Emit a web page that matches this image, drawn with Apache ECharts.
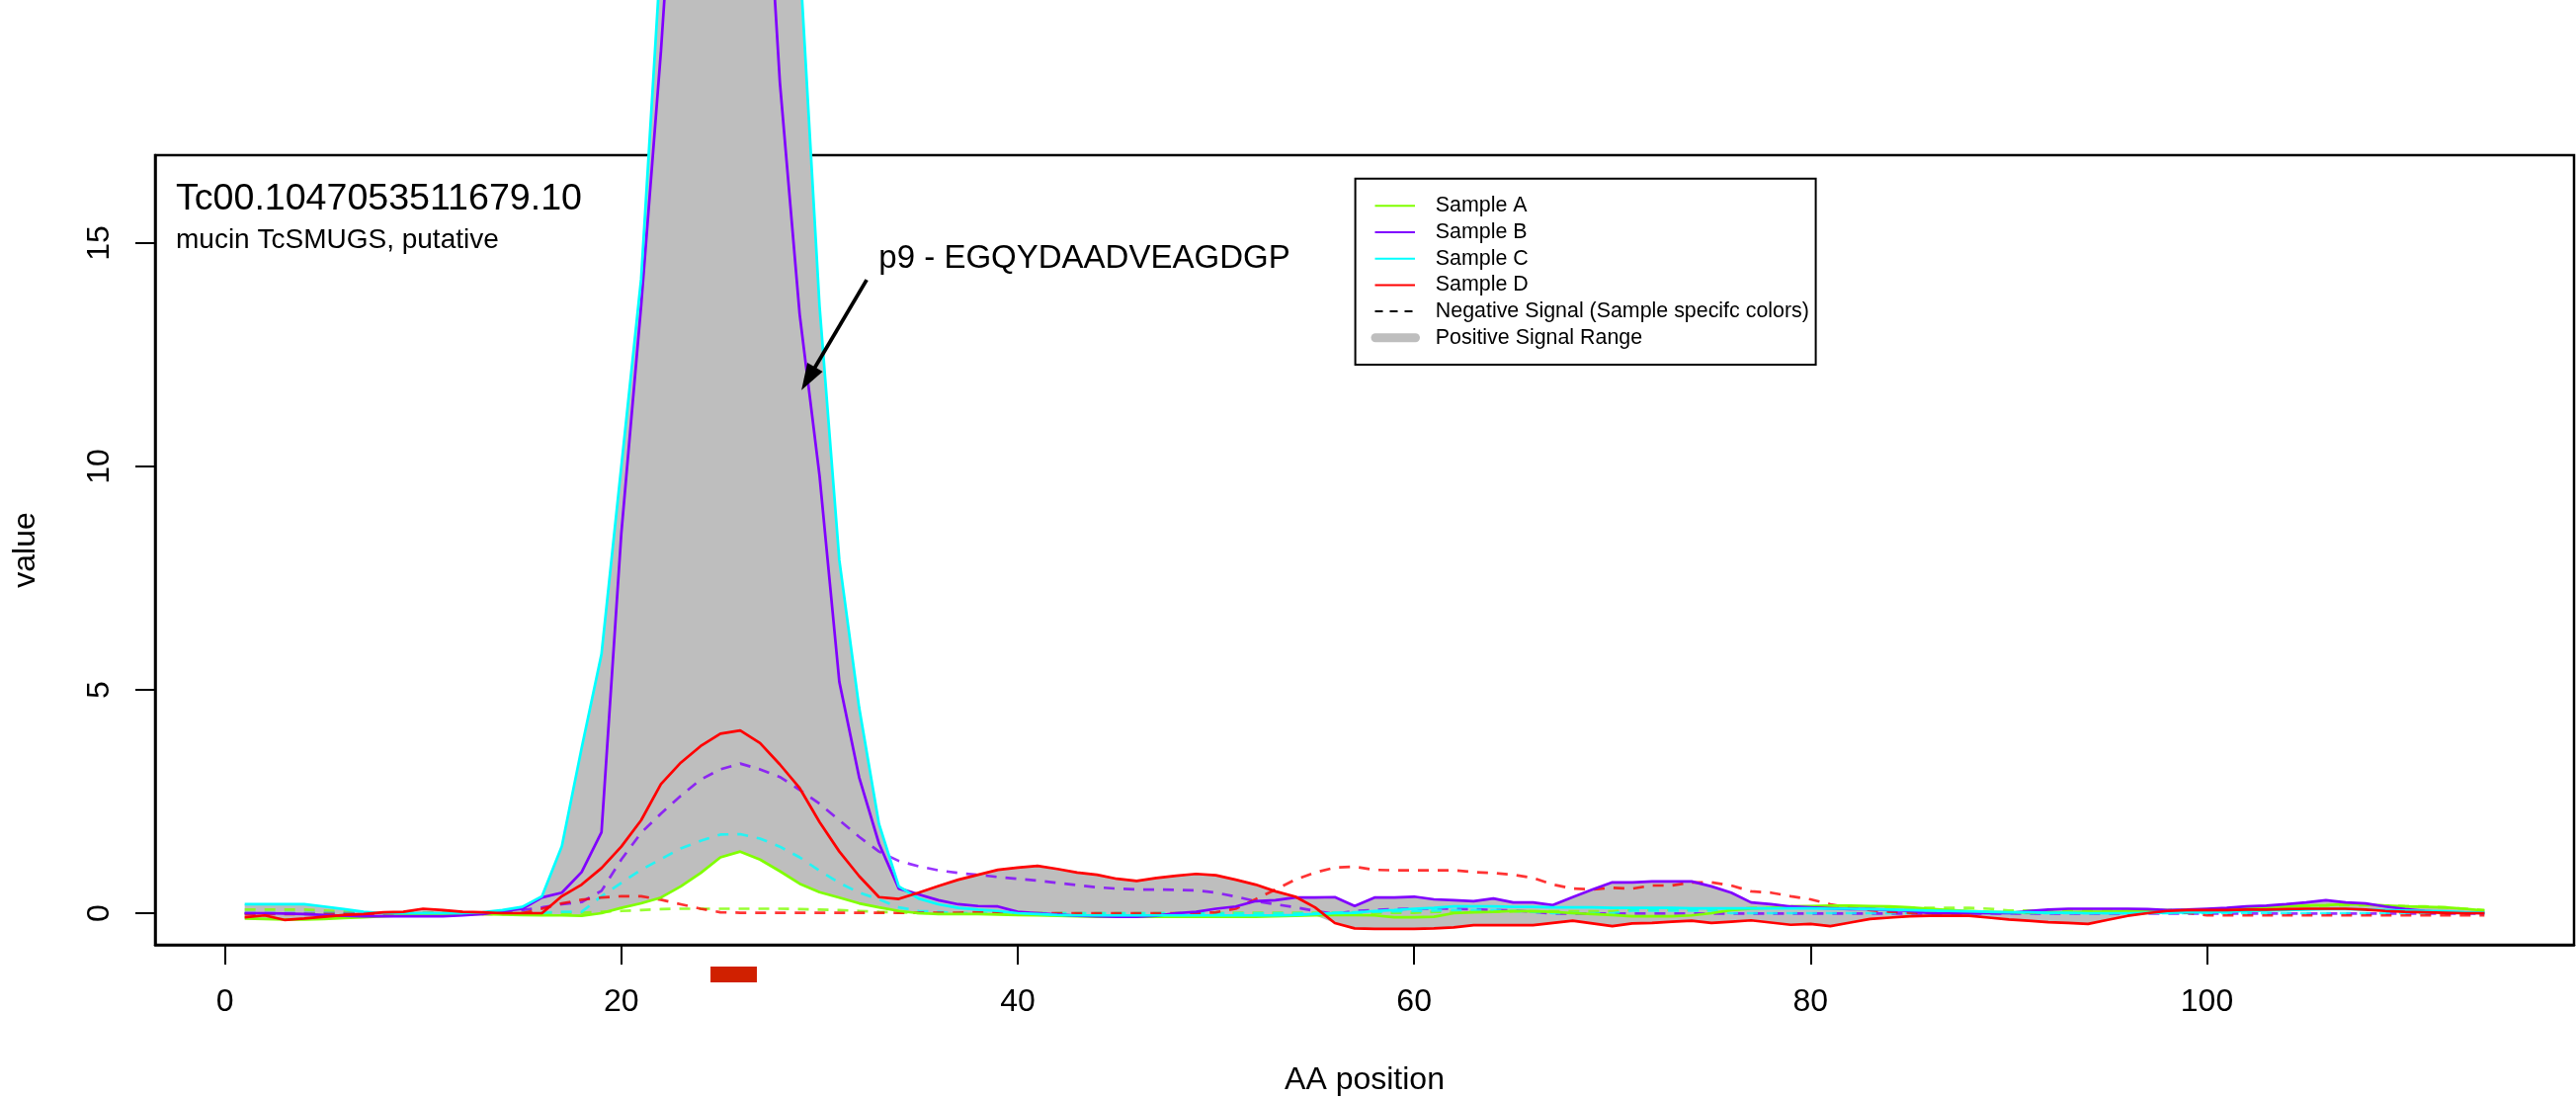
<!DOCTYPE html>
<html><head><meta charset="utf-8">
<script src="https://cdn.jsdelivr.net/npm/echarts@6/dist/echarts.min.js"></script>
<style>html,body{margin:0;padding:0;background:#fff}#c{width:2607px;height:1111px}</style>
</head><body><div id="c"></div>
<script>
// ---------- DATA ----------
const positions = [];
for (let p = 1; p <= 114; p++) positions.push(p);

const sampleNames = ['Sample A', 'Sample B', 'Sample C', 'Sample D'];

const sampleA_pos = [
 -0.12,-0.13,-0.14,-0.14,-0.13,-0.11,-0.09,-0.07,-0.05,-0.03,
 -0.02,-0.02,-0.02,-0.03,-0.04,-0.05,-0.05,-0.06,0.00,0.12,
 0.22,0.35,0.60,0.90,1.25,1.38,1.20,0.94,0.66,0.47,
 0.35,0.22,0.13,0.05,0.00,-0.02,-0.02,-0.02,-0.03,-0.04,
 -0.05,-0.06,-0.07,-0.08,-0.08,-0.08,-0.08,-0.08,-0.08,-0.08,
 -0.08,-0.08,-0.07,-0.06,-0.05,-0.04,-0.04,-0.05,-0.09,-0.09,
 -0.08,0.00,0.02,0.03,0.05,0.04,0.03,0.00,-0.02,-0.04,
 -0.07,-0.07,-0.07,-0.05,0.00,0.07,0.10,0.12,0.15,0.16,
 0.17,0.17,0.16,0.15,0.13,0.10,0.07,0.05,0.03,0.02,
 0.02,0.02,0.02,0.03,0.03,0.04,0.05,0.06,0.07,0.08,
 0.10,0.12,0.14,0.15,0.17,0.18,0.20,0.19,0.17,0.15,
 0.14,0.13,0.10,0.06];
const sampleB_pos = [
 0.00,0.00,-0.01,-0.02,-0.04,-0.06,-0.07,-0.07,-0.07,-0.07,
 -0.07,-0.05,-0.02,0.04,0.10,0.35,0.46,0.92,1.81,8.50,
 13.6,19.3,26.0,30.0,31.0,30.0,26.0,18.6,13.4,9.80,
 5.18,3.04,1.56,0.55,0.42,0.29,0.20,0.16,0.15,0.03,
 0.00,-0.03,-0.06,-0.07,-0.08,-0.08,-0.06,0.00,0.03,0.10,
 0.15,0.27,0.29,0.35,0.35,0.36,0.16,0.35,0.35,0.37,
 0.31,0.29,0.27,0.33,0.24,0.24,0.18,0.36,0.53,0.69,
 0.69,0.71,0.71,0.71,0.60,0.46,0.24,0.20,0.15,0.13,
 0.11,0.09,0.09,0.07,0.05,0.00,0.00,0.00,0.00,0.00,
 0.05,0.08,0.10,0.10,0.10,0.10,0.09,0.07,0.08,0.10,
 0.12,0.15,0.17,0.20,0.24,0.29,0.24,0.22,0.15,0.09,
 0.05,0.02,0.01,0.00];
const sampleC_pos = [
 0.20,0.20,0.20,0.20,0.15,0.09,0.03,0.00,0.00,0.00,
 0.00,0.00,0.02,0.07,0.14,0.38,1.50,3.70,5.80,10.0,
 14.2,21.5,28.0,32.0,33.0,32.0,29.0,25.0,21.4,13.6,
 7.90,4.60,2.00,0.60,0.33,0.20,0.12,0.08,0.05,0.00,
 -0.02,-0.04,-0.05,-0.05,-0.05,-0.05,-0.05,-0.05,-0.05,-0.05,
 -0.05,-0.05,-0.05,-0.04,-0.02,0.00,0.01,0.05,0.07,0.10,
 0.12,0.15,0.15,0.15,0.14,0.14,0.13,0.13,0.13,0.12,
 0.12,0.12,0.12,0.11,0.11,0.11,0.11,0.11,0.11,0.11,
 0.10,0.10,0.09,0.08,0.07,0.06,0.05,0.04,0.03,0.02,
 0.02,0.01,0.01,0.00,0.00,0.00,0.01,0.01,0.02,0.02,
 0.03,0.05,0.06,0.07,0.08,0.09,0.09,0.08,0.07,0.06,
 0.05,0.04,0.02,0.01];
const sampleD_pos = [
 -0.09,-0.05,-0.15,-0.12,-0.08,-0.04,-0.02,0.02,0.03,0.10,
 0.07,0.03,0.02,0.00,0.00,0.00,0.38,0.64,1.01,1.49,
 2.08,2.89,3.37,3.74,4.02,4.09,3.81,3.33,2.80,2.04,
 1.38,0.83,0.36,0.32,0.46,0.61,0.75,0.86,0.97,1.02,
 1.06,0.99,0.91,0.86,0.77,0.72,0.79,0.84,0.88,0.85,
 0.75,0.64,0.49,0.37,0.13,-0.22,-0.34,-0.35,-0.35,-0.35,
 -0.34,-0.32,-0.27,-0.27,-0.27,-0.27,-0.22,-0.17,-0.23,-0.29,
 -0.23,-0.22,-0.19,-0.17,-0.22,-0.19,-0.16,-0.21,-0.26,-0.24,
 -0.29,-0.21,-0.13,-0.10,-0.07,-0.06,-0.06,-0.06,-0.10,-0.14,
 -0.17,-0.20,-0.22,-0.24,-0.15,-0.06,0.00,0.05,0.07,0.07,
 0.07,0.08,0.08,0.09,0.10,0.10,0.10,0.08,0.05,0.03,
 0.02,0.01,0.00,0.00];

const sampleA_neg = [
 0.08,0.08,0.08,0.08,0.06,0.04,0.02,0.01,0.01,0.01,
 0.01,0.01,0.01,0.01,0.01,0.01,0.01,0.01,0.03,0.05,
 0.07,0.09,0.10,0.10,0.10,0.10,0.10,0.10,0.09,0.08,
 0.07,0.05,0.03,0.02,0.00,0.00,0.00,0.00,0.00,0.00,
 0.00,0.00,0.00,0.00,0.00,0.00,0.00,0.00,0.00,0.00,
 0.01,0.01,0.01,0.01,0.01,0.01,0.01,0.01,0.01,0.01,
 0.03,0.03,0.03,0.03,0.04,0.04,0.04,0.04,0.04,0.04,
 0.08,0.08,0.08,0.08,0.08,0.08,0.12,0.12,0.12,0.12,
 0.12,0.12,0.12,0.12,0.12,0.12,0.12,0.12,0.10,0.06,
 0.06,0.06,0.06,0.06,0.06,0.06,0.07,0.07,0.07,0.07,
 0.09,0.11,0.13,0.15,0.16,0.17,0.18,0.18,0.17,0.16,
 0.15,0.13,0.10,0.07];
const sampleB_neg = [
 0.00,0.00,0.00,0.00,0.00,0.00,0.00,0.00,0.00,0.00,
 0.00,0.00,0.00,0.00,0.07,0.13,0.20,0.25,0.50,1.20,
 1.80,2.23,2.63,2.99,3.22,3.35,3.22,3.05,2.76,2.45,
 2.08,1.71,1.38,1.17,1.05,0.96,0.90,0.86,0.81,0.77,
 0.73,0.68,0.63,0.58,0.55,0.53,0.53,0.52,0.51,0.46,
 0.37,0.27,0.20,0.13,0.05,-0.02,0.05,0.07,0.09,0.10,
 0.10,0.10,0.09,0.07,0.06,0.03,-0.01,-0.01,-0.01,-0.01,
 -0.01,-0.01,-0.01,-0.01,-0.01,-0.01,-0.01,-0.01,-0.01,-0.01,
 -0.01,-0.01,-0.01,-0.01,-0.01,-0.01,-0.01,-0.01,-0.01,-0.01,
 -0.01,-0.01,-0.01,-0.01,-0.01,-0.01,-0.01,-0.01,-0.01,-0.01,
 -0.01,-0.01,-0.01,-0.01,-0.01,-0.01,-0.01,-0.01,-0.01,-0.01,
 -0.01,-0.01,-0.01,-0.01];
const sampleC_neg = [
 0.00,0.00,0.00,0.00,0.00,0.00,0.00,0.00,0.00,0.00,
 0.00,0.00,0.00,0.00,0.00,0.01,0.03,0.03,0.38,0.68,
 0.97,1.21,1.45,1.62,1.76,1.77,1.67,1.49,1.25,0.95,
 0.68,0.46,0.31,0.13,0.05,0.03,0.00,0.00,0.00,0.00,
 0.00,0.00,0.00,0.00,0.00,0.00,0.00,0.00,0.00,0.00,
 0.00,0.00,0.00,0.00,0.00,0.01,0.02,0.03,0.04,0.05,
 0.06,0.07,0.07,0.07,0.05,0.03,0.00,0.00,0.00,0.00,
 0.06,0.06,0.06,0.06,0.06,0.00,0.00,0.00,0.00,0.00,
 0.00,0.00,0.00,0.00,0.00,0.00,0.00,0.00,0.00,0.00,
 0.00,0.00,0.00,0.00,0.00,0.00,0.00,0.00,0.00,0.00,
 0.00,0.00,0.00,0.00,0.00,0.00,0.00,0.00,0.00,0.00,
 0.00,0.00,0.00,0.00];
const sampleD_neg = [
 -0.02,-0.02,-0.02,-0.02,-0.02,-0.02,-0.02,-0.02,-0.02,-0.02,
 -0.02,-0.02,-0.02,-0.02,0.00,0.10,0.22,0.30,0.35,0.38,
 0.38,0.30,0.20,0.10,0.02,0.01,0.01,0.01,0.01,0.01,
 0.01,0.01,0.01,0.01,0.01,0.01,0.01,0.02,0.01,0.00,
 0.00,0.00,0.00,0.00,0.00,0.00,0.00,0.00,0.00,0.02,
 0.10,0.31,0.53,0.75,0.91,1.02,1.04,0.97,0.96,0.96,
 0.96,0.96,0.92,0.90,0.86,0.79,0.64,0.55,0.53,0.57,
 0.55,0.62,0.62,0.69,0.69,0.62,0.49,0.46,0.38,0.31,
 0.20,0.12,0.07,0.03,0.01,0.01,0.01,0.01,0.01,0.01,
 0.01,0.01,0.01,0.01,0.01,0.01,0.01,0.01,0.01,-0.05,
 -0.05,-0.05,-0.05,-0.05,-0.05,-0.05,-0.05,-0.05,-0.05,-0.05,
 -0.05,-0.05,-0.05,-0.05];

const xTicks = [0, 20, 40, 60, 80, 100];
const yTicks = [0, 5, 10, 15];
const titleLine1 = 'Tc00.1047053511679.10';
const titleLine2 = 'mucin TcSMUGS, putative';
const peptideLabel = 'p9 - EGQYDAADVEAGDGP';
const arrowFrom = [32.38, 14.18];
const arrowTo = [29.09, 11.71];
const peptideLabelPos = [32.99, 14.64];
const peptideBar = [24.5, 26.84];          // x span of the peptide marker
const peptideBarY = [-1.195, -1.549];      // y span (below the axis)
const legendLabels = ['Sample A', 'Sample B', 'Sample C', 'Sample D',
  'Negative Signal (Sample specifc colors)', 'Positive Signal Range'];

// ---------- STYLE ----------
const COLORS = ['#80FF00', '#8000FF', '#00FFFF', '#FF0000'];
const FILL = '#BEBEBE';
const FONT = '"Liberation Sans", Arial, Helvetica, sans-serif';
const X_MIN = -3.52, X_MAX = 118.52, Y_MIN = -0.708, Y_MAX = 16.97;
const LW = 2.7;

const posSeries = [sampleA_pos, sampleB_pos, sampleC_pos, sampleD_pos];
const negSeries = [sampleA_neg, sampleB_neg, sampleC_neg, sampleD_neg];

function pairs(arr) { return positions.map((p, k) => [p, arr[k]]); }
const bandLow = positions.map((p, k) => Math.min(...posSeries.map(s => s[k])));
const bandHigh = positions.map((p, k) => Math.max(...posSeries.map(s => s[k])));

const series = [];
// positive signal range polygon (min..max of the positive samples)
series.push({
  type: 'custom', name: 'Positive Signal Range', clip: false, silent: true, z: 1,
  data: [0],
  renderItem: function (params, api) {
    const pts = [];
    positions.forEach((p, k) => pts.push(api.coord([p, bandHigh[k]])));
    for (let k = positions.length - 1; k >= 0; k--) pts.push(api.coord([positions[k], bandLow[k]]));
    return { type: 'polygon', shape: { points: pts }, style: { fill: FILL, stroke: null } };
  }
});
negSeries.forEach((arr, k) => series.push({
  type: 'line', name: sampleNames[k] + ' neg', data: pairs(arr), symbol: 'none', showSymbol: false,
  clip: false, silent: true, z: 2,
  lineStyle: { color: COLORS[k], width: LW, type: [11, 9], opacity: 0.8 }
}));
posSeries.forEach((arr, k) => series.push({
  type: 'line', name: sampleNames[k], data: pairs(arr), symbol: 'none', showSymbol: false,
  clip: false, silent: true, z: 3,
  lineStyle: { color: COLORS[k], width: LW }
}));
// peptide marker bar below the axis
series.push({
  type: 'custom', name: 'peptide', clip: false, silent: true, z: 4,
  data: [0],
  renderItem: function (params, api) {
    const a = api.coord([peptideBar[0], peptideBarY[0]]);
    const b = api.coord([peptideBar[1], peptideBarY[1]]);
    return { type: 'rect', shape: { x: a[0], y: a[1], width: b[0] - a[0], height: b[1] - a[1] },
      style: { fill: '#D02000' } };
  }
});
// annotation arrow + text
series.push({
  type: 'custom', name: 'annotation', clip: false, silent: true, z: 5,
  data: [0],
  renderItem: function (params, api) {
    const p0 = api.coord(arrowFrom), p1 = api.coord(arrowTo);
    const dx = p1[0] - p0[0], dy = p1[1] - p0[1];
    const L = Math.sqrt(dx * dx + dy * dy), ux = dx / L, uy = dy / L;
    const hl = 27, hw = 9;
    const bx = p1[0] - ux * hl, by = p1[1] - uy * hl;
    const t = api.coord(peptideLabelPos);
    return { type: 'group', children: [
      { type: 'line', shape: { x1: p0[0], y1: p0[1], x2: bx + ux * 4, y2: by + uy * 4 },
        style: { stroke: '#000', lineWidth: 3.8 } },
      { type: 'polygon', shape: { points: [[p1[0], p1[1]], [bx - uy * hw, by + ux * hw], [bx + uy * hw, by - ux * hw]] },
        style: { fill: '#000' } },
      { type: 'text', x: t[0], y: t[1], style: { text: peptideLabel, font: '33px ' + FONT, fill: '#000',
        align: 'left', verticalAlign: 'middle' } }
    ] };
  }
});

// ---------- LEGEND (graphic) ----------
const legX0 = 1371.6, legY0 = 180.7, legW = 466, legH = 188.3;
const rowY0 = 208.3, rowStep = 26.7;
const graphics = [];
graphics.push({ type: 'rect', shape: { x: legX0, y: legY0, width: legW, height: legH },
  style: { fill: '#fff', stroke: '#000', lineWidth: 2 }, z: 100 });
legendLabels.forEach((lab, k) => {
  const y = rowY0 + k * rowStep;
  if (k < 4) {
    graphics.push({ type: 'line', shape: { x1: 1391.5, y1: y, x2: 1432, y2: y },
      style: { stroke: COLORS[k], lineWidth: 2 }, z: 101 });
  } else if (k === 4) {
    graphics.push({ type: 'line', shape: { x1: 1391.5, y1: y, x2: 1432, y2: y },
      style: { stroke: '#000', lineWidth: 2, lineDash: [8, 7] }, z: 101 });
  } else {
    graphics.push({ type: 'line', shape: { x1: 1392, y1: y, x2: 1432.5, y2: y },
      style: { stroke: FILL, lineWidth: 9, lineCap: 'round' }, z: 101 });
  }
  graphics.push({ type: 'text', x: 1452.8, y: y, style: { text: lab, font: '21.4px ' + FONT, fill: '#000',
    align: 'left', verticalAlign: 'middle' }, z: 101 });
});
graphics.push({ type: 'text', x: 178, y: 201.5, style: { text: titleLine1, font: '37.6px ' + FONT, fill: '#000',
  align: 'left', verticalAlign: 'middle' }, z: 101 });
graphics.push({ type: 'text', x: 178, y: 243.6, style: { text: titleLine2, font: '28px ' + FONT, fill: '#000',
  align: 'left', verticalAlign: 'middle' }, z: 101 });
graphics.push({ type: 'text', x: 1381, y: 1093, style: { text: 'AA position', font: '32px ' + FONT, fill: '#000',
  align: 'center', verticalAlign: 'middle' }, z: 101 });
graphics.push({ type: 'text', x: 26, y: 556.5, rotation: Math.PI / 2, style: { text: 'value', font: '32px ' + FONT,
  fill: '#000', align: 'center', verticalAlign: 'middle' }, z: 101 });

const chart = echarts.init(document.getElementById('c'), null, { renderer: 'canvas' });
chart.setOption({
  animation: false,
  backgroundColor: '#fff',
  grid: { left: 157, right: 2, top: 157, bottom: 155, show: true, borderColor: '#000', borderWidth: 2.5,
    backgroundColor: 'transparent' },
  xAxis: {
    type: 'value', min: X_MIN, max: X_MAX,
    axisLine: { show: true, onZero: false, lineStyle: { color: '#000', width: 2.5 } },
    axisTick: { show: true, length: 20, lineStyle: { color: '#000', width: 2 }, customValues: xTicks },
    axisLabel: { show: true, customValues: xTicks, margin: 42, fontSize: 32, color: '#000', fontFamily: FONT },
    splitLine: { show: false }
  },
  yAxis: {
    type: 'value', min: Y_MIN, max: Y_MAX,
    axisLine: { show: true, onZero: false, lineStyle: { color: '#000', width: 2.5 } },
    axisTick: { show: true, length: 20, lineStyle: { color: '#000', width: 2 }, customValues: yTicks },
    axisLabel: { show: true, customValues: yTicks, rotate: 90, margin: 40, fontSize: 32, color: '#000', fontFamily: FONT },
    splitLine: { show: false }
  },
  graphic: graphics,
  series: series
});
</script>
</body></html>
